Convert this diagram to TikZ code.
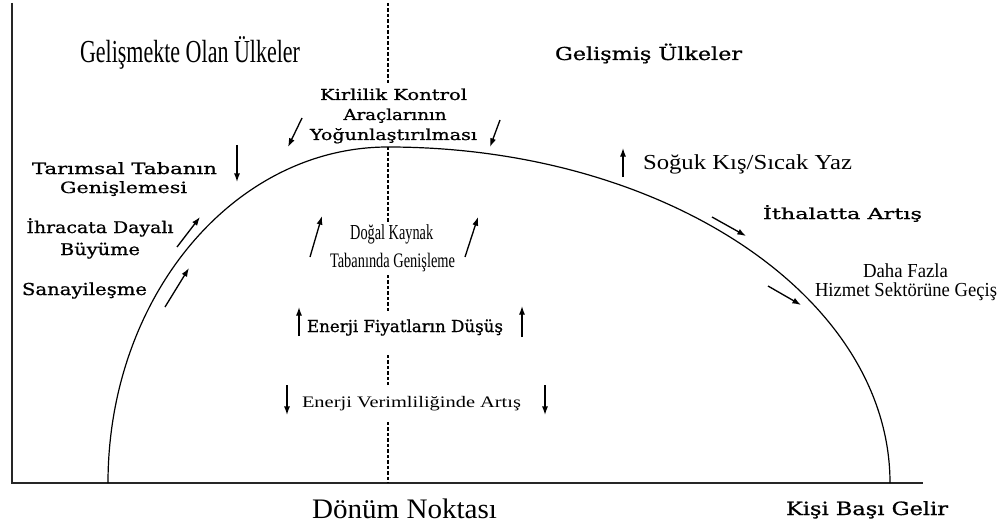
\documentclass[tikz,border=0pt]{standalone}
\usepackage{fontspec}
\usepackage{graphicx}
\usetikzlibrary{arrows.meta}
\newfontfamily\tms{Liberation Serif}
\newfontfamily\cen[FakeBold=0.8]{DejaVu Serif}
% #1 font, #2 cap height (px), #3 width (px), #4 text
\newcommand\fitt[4]{%
  \setbox0=\hbox{#1#4}%
  \setbox2=\hbox{#1H}%
  \edef\fitw{\the\wd0}%
  \edef\fith{\the\ht2}%
  \pgfmathsetmacro\fitsx{#3*0.75/\fitw}%
  \pgfmathsetmacro\fitsy{#2*0.75/\fith}%
  \scalebox{\fitsx}[\fitsy]{\box0}%
}
\begin{document}
\begin{tikzpicture}[x=0.75pt,y=-0.75pt,
  lbl/.style={inner sep=0pt, outer sep=0pt, anchor=base},
  lblw/.style={inner sep=0pt, outer sep=0pt, anchor=base west},
  arr/.style={line width=1pt, -{Latex[length=6.5pt,width=4.6pt]}},
  axisline/.style={line width=1.1pt, black!85},
  curveline/.style={line width=0.9pt},
  midline/.style={line width=0.8pt, dash pattern=on 2.6pt off 1.5pt},
  ]
\useasboundingbox (0,0) rectangle (998,524);
\fill[white] (0,0) rectangle (998,524);

% axes
\coordinate (ytop) at (12,3);
\coordinate (origin) at (12,483);
\coordinate (xend) at (923,483);
\draw[axisline] (ytop) -- (origin) -- (xend);

% turning point line (interrupted behind the central labels)
\coordinate (d0) at (388,3);   \coordinate (d1) at (388,85);
\coordinate (d2) at (388,147); \coordinate (d3) at (388,222);
\coordinate (d4) at (388,275); \coordinate (d5) at (388,313);
\coordinate (d6) at (388,355); \coordinate (d7) at (388,385);
\coordinate (d8) at (388,422); \coordinate (d9) at (388,483);
\draw[midline] (d0) -- (d1) (d2) -- (d3) (d4) -- (d5) (d6) -- (d7) (d8) -- (d9);

% curve
\coordinate (cl) at (108,483);
\draw[curveline] (cl) arc[start angle=180, end angle=270, x radius=280, y radius=336]
                 arc[start angle=270, end angle=360, x radius=502, y radius=336];

% labels
\node[lbl] (gol) at (190,63) {\fitt{\tms}{21}{220}{Gelişmekte Olan Ülkeler}};
\node[lbl] (gu) at (648.5,60) {\fitt{\cen}{13}{187}{Gelişmiş Ülkeler}};

\node[lbl] (k1) at (393.5,100) {\fitt{\cen}{11}{147}{Kirlilik Kontrol}};
\node[lbl] (k2) at (395,120) {\fitt{\cen}{11}{103}{Araçlarının}};
\node[lbl] (k3) at (393.5,140) {\fitt{\cen}{11}{167}{Yoğunlaştırılması}};

\node[lbl] (ta1) at (124.5,174) {\fitt{\cen}{11.3}{185}{Tarımsal Tabanın}};
\node[lbl] (ta2) at (123.5,193) {\fitt{\cen}{11.3}{127}{Genişlemesi}};

\node[lbl] (ih1) at (100,233) {\fitt{\cen}{11.7}{147}{İhracata Dayalı}};
\node[lbl] (ih2) at (100,255) {\fitt{\cen}{11.7}{80}{Büyüme}};

\node[lbl] (san) at (84.5,295) {\fitt{\cen}{12}{125}{Sanayileşme}};

\node[lbl] (dk1) at (391.7,239) {\fitt{\tms}{14}{83}{Doğal Kaynak}};
\node[lbl] (dk2) at (392.5,267) {\fitt{\tms}{13.5}{125}{Tabanında Genişleme}};

\node[lblw] (efd) at (307,332) {\fitt{\cen}{12}{196}{Enerji Fiyatların Düşüş}};
\node[lblw] (eva) at (302,407) {\fitt{\tms}{10.5}{219}{Enerji Verimliliğinde Artış}};

\node[lblw] (sks) at (643,169) {\fitt{\tms}{14}{209}{Soğuk Kış/Sıcak Yaz}};
\node[lblw] (ita) at (763,219) {\fitt{\cen}{11}{159}{İthalatta Artış}};

\node[lbl] (df1) at (905.5,277) {\fitt{\tms}{13}{85}{Daha Fazla}};
\node[lbl] (df2) at (906,296) {\fitt{\tms}{13}{182}{Hizmet Sektörüne Geçiş}};

\node[lbl] (dn) at (404.5,518) {\fitt{\tms}{18.5}{185}{Dönüm Noktası}};
\node[lbl] (kbg) at (867,515) {\fitt{\cen}{13.3}{162}{Kişi Başı Gelir}};

% arrows
\coordinate (a1s) at (302,118); \coordinate (a1e) at (288,147);
\coordinate (a2s) at (500,120); \coordinate (a2e) at (490,147);
\coordinate (a3s) at (237,145); \coordinate (a3e) at (237,182);
\coordinate (a4s) at (177,247); \coordinate (a4e) at (200,217);
\coordinate (a5s) at (165,307); \coordinate (a5e) at (189,268);
\coordinate (a6s) at (310,257); \coordinate (a6e) at (322,216);
\coordinate (a7s) at (465,257); \coordinate (a7e) at (478,217);
\coordinate (a8s) at (299,336); \coordinate (a8e) at (299,307);
\coordinate (a9s) at (522,337); \coordinate (a9e) at (522,306);
\coordinate (a10s) at (287,385); \coordinate (a10e) at (287,415);
\coordinate (a11s) at (545,385); \coordinate (a11e) at (545,415);
\coordinate (a12s) at (623,177); \coordinate (a12e) at (623,148);
\coordinate (a13s) at (712,217); \coordinate (a13e) at (746,236);
\coordinate (a14s) at (768,286); \coordinate (a14e) at (801,305);
\foreach \i in {1,...,14} {\draw[arr] (a\i s) -- (a\i e);}
\end{tikzpicture}
\end{document}
